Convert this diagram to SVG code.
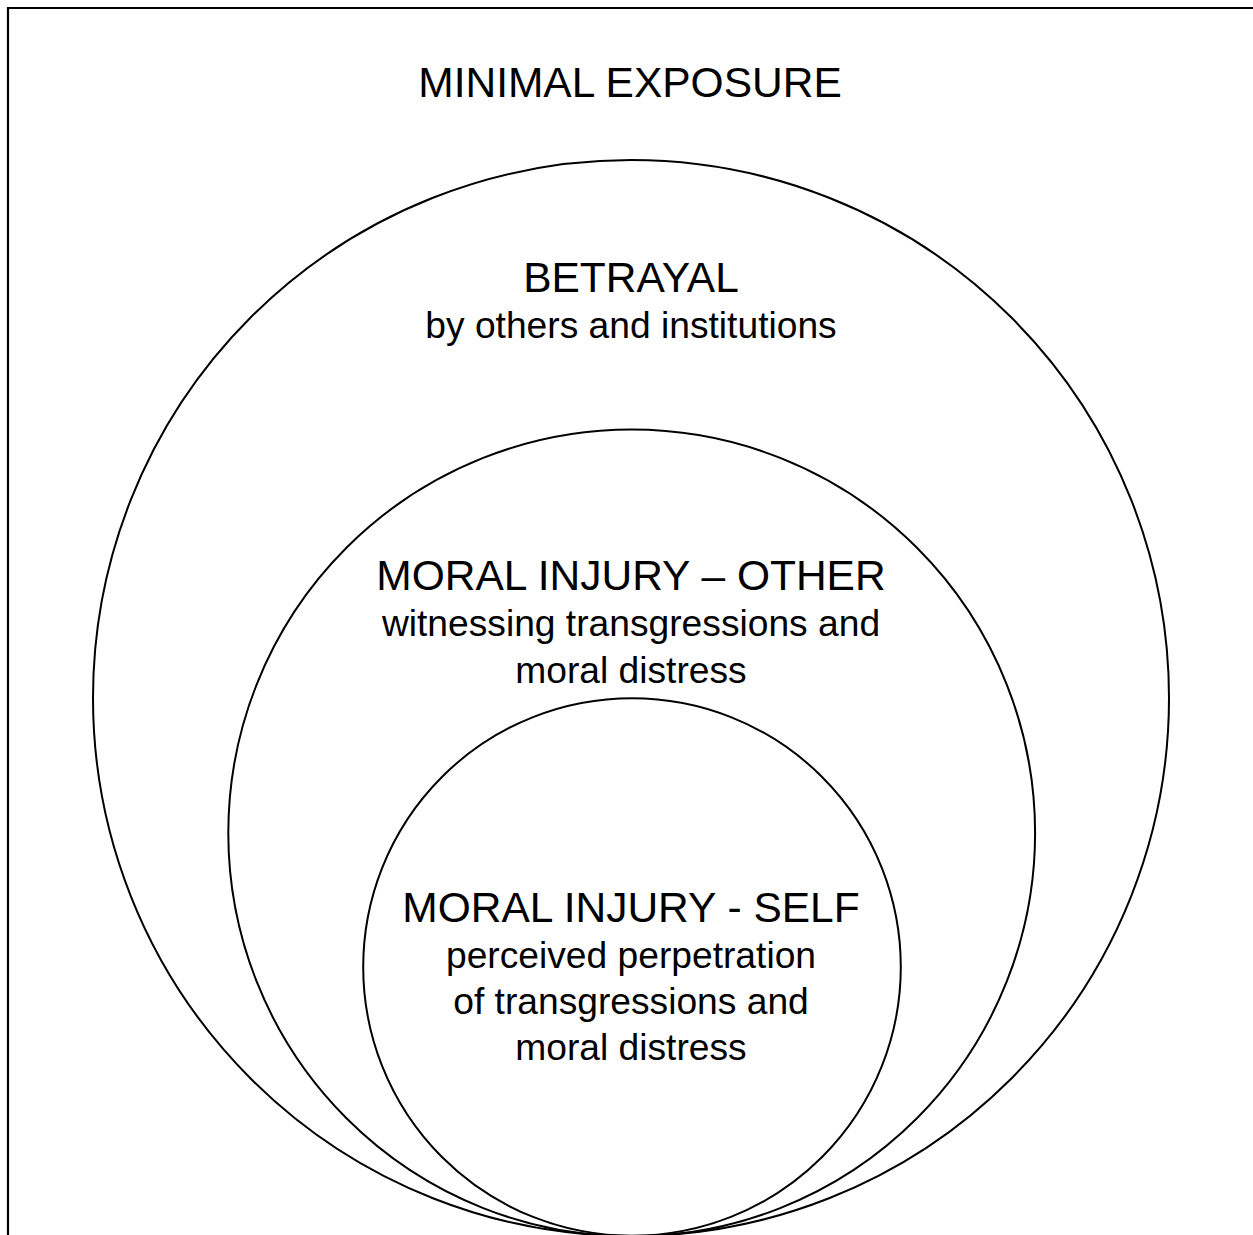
<svg xmlns="http://www.w3.org/2000/svg" width="1253" height="1235" viewBox="0 0 1253 1235">
<style>
.c{fill:none;stroke:#000;stroke-width:2}
.t{font-family:"Liberation Sans",Arial,sans-serif;font-size:37.2px;fill:#000;text-anchor:middle}
.h{font-size:42.5px}
</style>
<rect width="1253" height="1235" fill="#fff"/>
<path d="M8,1235 V8 H1253" fill="none" stroke="#000" stroke-width="2.2"/>
<g id="minimal-exposure">
<text class="t h" x="630" y="97">MINIMAL EXPOSURE</text>
</g>
<g id="betrayal">
<circle class="c" cx="631" cy="698" r="538"/>
<text class="t h" x="631" y="292">BETRAYAL</text>
<text class="t" x="631" y="338">by others and institutions</text>
</g>
<g id="moral-injury-other">
<circle class="c" cx="631.7" cy="833" r="403.4"/>
<text class="t h" x="631" y="590">MORAL INJURY – OTHER</text>
<text class="t" x="631" y="636">witnessing transgressions and</text>
<text class="t" x="631" y="683">moral distress</text>
</g>
<g id="moral-injury-self">
<circle class="c" cx="632" cy="967" r="268.8"/>
<text class="t h" x="631" y="922">MORAL INJURY - SELF</text>
<text class="t" x="631" y="968">perceived perpetration</text>
<text class="t" x="631" y="1014">of transgressions and</text>
<text class="t" x="631" y="1060">moral distress</text>
</g>
<g id="connectors"></g>
</svg>
